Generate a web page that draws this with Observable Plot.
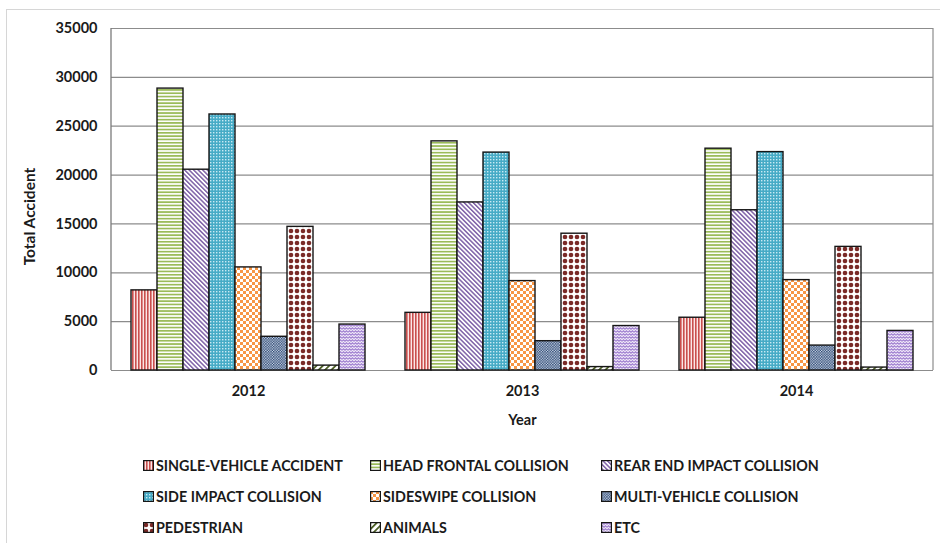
<!DOCTYPE html>
<html>
<head>
<meta charset="utf-8">
<script src="https://cdn.jsdelivr.net/npm/d3@7"></script>
<script src="https://cdn.jsdelivr.net/npm/@observablehq/plot@0.6"></script>
<style>
  html, body { margin: 0; padding: 0; background: #fff; }
  body { width: 940px; height: 543px; position: relative; overflow: hidden; font-family: Lato, "Open Sans", sans-serif; }
  #frame { position: absolute; left: 6px; top: 9px; width: 1000px; height: 1000px; border: 1px solid #d6d6d6; pointer-events: none; }
  #legend { display: grid; grid-template-columns: 227px 231px auto; grid-auto-rows: 31px; margin-left: 143px; padding-top: 9.5px; }
  .item { display: flex; align-items: center; font-weight: bold; font-size: 14.3px; color: #1a1a1a; white-space: nowrap; }
  .item svg { margin-right: 2px; flex: none; }
</style>
</head>
<body>
<div id="frame"></div>
<svg width="0" height="0" style="position:absolute">
  <defs>
    <pattern id="p0" patternUnits="userSpaceOnUse" width="3" height="3">
      <rect width="3" height="3" fill="#fbe6e6"/><rect width="1.6" height="3" fill="#c94f4d"/>
    </pattern>
    <pattern id="p1" patternUnits="userSpaceOnUse" width="3.3" height="3.3">
      <rect width="3.3" height="3.3" fill="#ffffff"/><rect width="3.3" height="1.7" fill="#9bbb59"/>
    </pattern>
    <pattern id="p2" patternUnits="userSpaceOnUse" width="3.2" height="3.2" patternTransform="rotate(-45)">
      <rect width="3.2" height="3.2" fill="#ffffff"/><rect width="1.5" height="3.2" fill="#7f62a8"/>
    </pattern>
    <pattern id="p3" patternUnits="userSpaceOnUse" width="3" height="3">
      <rect width="3" height="3" fill="#46abc6"/><rect width="1.4" height="1.4" fill="#c9eaf3"/>
    </pattern>
    <pattern id="p4" patternUnits="userSpaceOnUse" width="6" height="6">
      <rect width="6" height="6" fill="#ffffff"/><rect width="3" height="3" fill="#f79646"/><rect x="3" y="3" width="3" height="3" fill="#f79646"/>
    </pattern>
    <pattern id="p5" patternUnits="userSpaceOnUse" width="2.6" height="2.6">
      <rect width="2.6" height="2.6" fill="#dbe2ec"/><rect width="1.4" height="1.4" fill="#1f3e6e"/><rect x="1.3" y="1.3" width="1.4" height="1.4" fill="#1f3e6e"/>
    </pattern>
    <pattern id="p6" patternUnits="userSpaceOnUse" width="6" height="6">
      <rect width="6" height="6" fill="#ffffff"/><circle cx="3" cy="3" r="2.3" fill="#7a2a27"/>
    </pattern>
    <pattern id="p7" patternUnits="userSpaceOnUse" width="4.5" height="4.5" patternTransform="rotate(45)">
      <rect width="4.5" height="4.5" fill="#ffffff"/><rect width="1.8" height="4.5" fill="#4f6228"/>
    </pattern>
    <pattern id="p8" patternUnits="userSpaceOnUse" width="6" height="3">
      <rect width="6" height="3" fill="#f3ecfa"/><path d="M0,2.2 L1.5,0.8 L3,2.2 L4.5,0.8 L6,2.2" fill="none" stroke="#9f7fd0" stroke-width="1.2"/>
    </pattern>
  </defs>
</svg>
<div id="chart"></div>
<div id="legend"></div>
<script>
const years = ["2012", "2013", "2014"];
const types = [
  "SINGLE-VEHICLE ACCIDENT", "HEAD FRONTAL COLLISION", "REAR END IMPACT COLLISION",
  "SIDE IMPACT COLLISION", "SIDESWIPE COLLISION", "MULTI-VEHICLE COLLISION",
  "PEDESTRIAN", "ANIMALS", "ETC"
];
const values2012 = [8200, 28850, 20550, 26200, 10550, 3450, 14700, 500, 4700];
const values2013 = [5900, 23450, 17200, 22300, 9150, 3000, 14000, 350, 4550];
const values2014 = [5400, 22700, 16400, 22350, 9250, 2550, 12650, 300, 4050];
const yTicks = [0, 5000, 10000, 15000, 20000, 25000, 30000, 35000];
const yTitle = "Total Accident";
const xTitle = "Year";

(function () {
  const seriesByYear = {"2012": values2012, "2013": values2013, "2014": values2014};
  const data = years.flatMap(year => types.map((type, i) => ({year, type, value: seriesByYear[year][i]})));
  const patternFills = types.map((_, i) => `url(#p${i})`);

  const plot = Plot.plot({
    width: 940,
    height: 440,
    marginLeft: 111,
    marginRight: 7,
    marginTop: 28,
    marginBottom: 70,
    style: {fontFamily: "Lato, 'Open Sans', sans-serif", fontSize: "14.5px", fontWeight: "bold", color: "#1a1a1a", background: "transparent"},
    fx: {domain: years, padding: 0, label: xTitle},
    x: {domain: types, paddingInner: 0, paddingOuter: 0.75, axis: null},
    y: {domain: [0, 35000], label: yTitle},
    color: {domain: types, range: patternFills},
    marks: [
      Plot.gridY(yTicks, {stroke: "#8c8c8c", strokeOpacity: 1, strokeWidth: 1.2}),
      Plot.axisY(yTicks, {tickSize: 0, tickPadding: 14, tickFormat: d => String(d), fontSize: 14.5, label: null}),
      Plot.text([yTitle], {fx: () => years[0], frameAnchor: "left", textAnchor: "middle", rotate: -90, dx: -81, dy: 17, fontSize: 15.5, fontWeight: "bold", fill: "#1a1a1a"}),
      Plot.axisFx({anchor: "bottom", tickSize: 0, tickPadding: 15, label: xTitle, labelAnchor: "center", labelOffset: 54, labelArrow: "none", fontSize: 14.5}),
      Plot.barY(data, {fx: "year", x: "type", y: "value", fill: "type", stroke: "#161616", strokeWidth: 1.4})
    ]
  });
  document.getElementById("chart").appendChild(plot);

  // Plot-area border lines, positioned from the chart's own scales
  const fxs = plot.scale("fx"), ys = plot.scale("y");
  const x0 = fxs.apply(years[0]), x1 = fxs.apply(years[years.length - 1]) + fxs.bandwidth;
  const yTop = ys.apply(35000), yBottom = ys.apply(0);
  const svg = d3.select(plot);
  svg.append("line").attr("x1", x0).attr("x2", x0).attr("y1", yTop).attr("y2", yBottom)
    .attr("stroke", "#7a7a7a").attr("stroke-width", 1.3);
  svg.append("line").attr("x1", x1).attr("x2", x1).attr("y1", yTop).attr("y2", yBottom)
    .attr("stroke", "#8c8c8c").attr("stroke-width", 1.2);

  // Legend
  const legend = d3.select("#legend");
  types.forEach((t, i) => {
    const item = legend.append("div").attr("class", "item");
    const s = item.append("svg").attr("width", 11).attr("height", 11);
    s.append("rect").attr("x", 0.6).attr("y", 0.6).attr("width", 9.8).attr("height", 9.8)
      .attr("fill", patternFills[i]).attr("stroke", "#161616").attr("stroke-width", 1.2);
    item.append("span").text(t);
  });
})();
</script>
</body>
</html>
